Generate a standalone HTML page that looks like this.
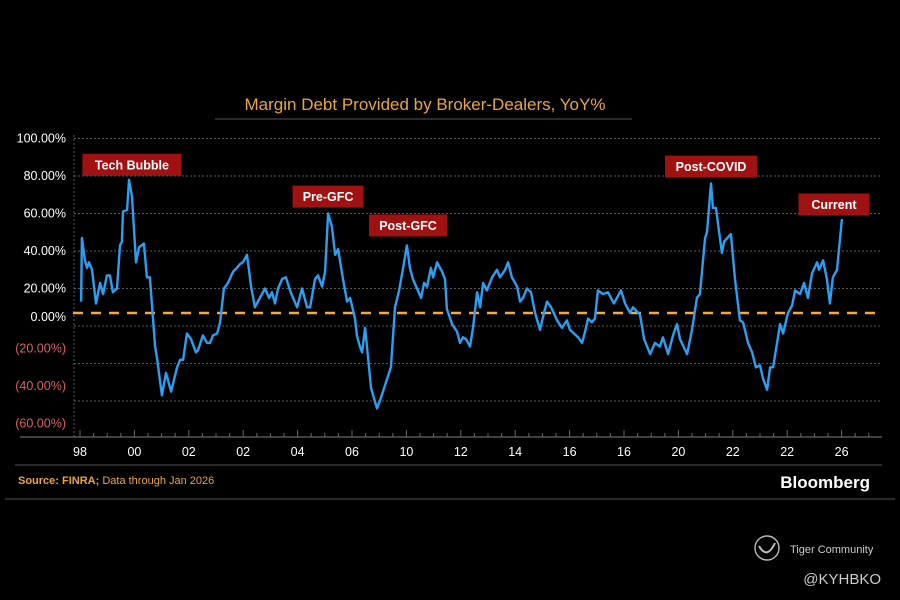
<!DOCTYPE html>
<html><head><meta charset="utf-8"><style>
html,body{margin:0;padding:0;background:#000;}
body{width:900px;height:600px;overflow:hidden;position:relative;font-family:"Liberation Sans",sans-serif;}
</style></head><body>
<svg id="chart" width="900" height="600" xmlns="http://www.w3.org/2000/svg" style="position:absolute;left:0;top:0">
<rect x="0" y="0" width="900" height="600" fill="#000"/>
<text x="425" y="110" fill="#eba53e" font-size="17" text-anchor="middle" font-family="Liberation Sans, sans-serif">Margin Debt Provided by Broker-Dealers, YoY%</text>
<line x1="215" y1="119" x2="632" y2="119" stroke="#555" stroke-width="1"/>
<g id="grid"></g>
<g id="ylabels"></g>
<g id="xaxis"></g>
<line x1="73" y1="313" x2="882" y2="313" stroke="#f2a94a" stroke-width="2.5" stroke-dasharray="10,8"/>
<path id="series" fill="none" stroke="#2b9ff2" stroke-width="2.4" stroke-linejoin="round"/>
<g id="annots"></g>
<line x1="15" y1="465" x2="882" y2="465" stroke="#444" stroke-width="1.2"/>
<text x="18" y="484" fill="#eba53e" font-size="11"><tspan font-weight="bold">Source: FINRA;</tspan> Data through Jan 2026</text>
<text x="870" y="488" fill="#fff" font-size="17" font-weight="bold" text-anchor="end">Bloomberg</text>
<line x1="5" y1="499" x2="895" y2="499" stroke="#444" stroke-width="1.2"/>
<g>
<circle cx="767" cy="548" r="12" fill="none" stroke="#bbb" stroke-width="1.4"/>
<path d="M759 546 Q767 560 775 543" fill="none" stroke="#bbb" stroke-width="2"/>
<text x="790" y="553" fill="#ccc" font-size="11">Tiger Community</text>
</g>
<text x="881" y="584" fill="#ccc" font-size="15" text-anchor="end">@KYHBKO</text>
</svg>
<script>
const years=[1998.04,1998.07,1998.18,1998.26,1998.33,1998.44,1998.59,1998.74,1998.85,1998.99,1999.10,1999.21,1999.36,1999.47,1999.54,1999.58,1999.73,1999.80,1999.91,2000.06,2000.17,2000.35,2000.46,2000.57,2000.76,2000.83,2001.01,2001.16,2001.35,2001.57,2001.68,2001.79,2001.93,2002.08,2002.26,2002.34,2002.52,2002.67,2002.78,2002.89,2003.04,2003.15,2003.29,2003.44,2003.63,2003.77,2003.88,2003.99,2004.14,2004.29,2004.43,2004.54,2004.80,2004.95,2005.06,2005.17,2005.28,2005.43,2005.57,2005.72,2005.83,2005.98,2006.16,2006.35,2006.46,2006.64,2006.75,2006.90,2007.01,2007.12,2007.26,2007.38,2007.49,2007.67,2007.82,2007.93,2008.11,2008.18,2008.29,2008.37,2008.48,2008.55,2008.70,2008.92,2009.07,2009.25,2009.43,2009.58,2009.73,2009.88,2010.02,2010.13,2010.24,2010.39,2010.54,2010.65,2010.76,2010.90,2010.98,2011.13,2011.31,2011.42,2011.49,2011.68,2011.86,2011.97,2012.08,2012.19,2012.34,2012.45,2012.60,2012.71,2012.82,2012.96,2013.15,2013.33,2013.44,2013.63,2013.74,2013.88,2014.07,2014.18,2014.29,2014.43,2014.58,2014.73,2014.91,2015.06,2015.17,2015.32,2015.54,2015.72,2015.90,2016.01,2016.16,2016.31,2016.46,2016.57,2016.68,2016.82,2016.93,2017.04,2017.23,2017.41,2017.63,2017.89,2018.04,2018.22,2018.33,2018.59,2018.74,2018.96,2019.14,2019.32,2019.43,2019.62,2019.80,2019.95,2020.06,2020.32,2020.50,2020.68,2020.79,2020.98,2021.05,2021.20,2021.27,2021.38,2021.60,2021.68,2021.93,2022.08,2022.26,2022.38,2022.56,2022.71,2022.85,2023.00,2023.11,2023.26,2023.37,2023.48,2023.74,2023.85,2024.03,2024.18,2024.29,2024.47,2024.62,2024.76,2024.91,2025.10,2025.17,2025.32,2025.46,2025.57,2025.68,2025.83,2026.01];
const values=[13,47,35,31,34,30,12,23,17,27,27,18,20,43,45,61,62,78,69,34,42,44,26,26,-11,-17,-37,-25,-35,-22,-18,-18,-4,-7,-14,-13,-5,-9,-9,-5,-4,2,20,23,29,31,33,34,38,21,10,13,20,15,18,12,20,25,26,19,15,10,20,10,10,25,27,21,29,60,53,38,41,25,13,15,4,-5,-11,-14,-1,-11,-33,-44,-38,-30,-22,10,19,31,43,31,25,20,15,23,21,31,26,34,29,25,9,1,-3,-9,-6,-7,-11,-1,18,10,23,19,26,30,26,30,34,26,21,13,15,20,18,7,-2,7,13,10,3,-1,3,-2,-4,-6,-9,-3,4,2,4,19,17,18,12,19,12,7,10,6,-7,-15,-9,-11,-6,-15,-5,1,-7,-15,-2,15,17,47,50,76,63,63,39,45,49,25,3,2,-9,-14,-22,-21,-28,-34,-22,-22,1,-4,7,11,19,17,23,15,28,34,30,35,25,12,26,30,57];
const yTicks=[100,80,60,40,20,0,-20,-40];
const yLabelValues=[100,80,60,40,20,0,-20,-40,-60];
const yLabelText=["100.00%","80.00%","60.00%","40.00%","20.00%","0.00%","(20.00%)","(40.00%)","(60.00%)"];
const xTickYears=[1998,2000,2002,2004,2006,2008,2010,2012,2014,2016,2018,2020,2022,2024,2026];
const xTickText=["98","00","02","02","04","06","10","12","14","16","16","20","22","22","26"];
const annotText=["Tech Bubble","Pre-GFC","Post-GFC","Post-COVID","Current"];
const annotYear=[1999.91,2007.12,2010.06,2021.2,2025.72];
const annotValue=[86,69,53.6,85,64.8];

const NS="http://www.w3.org/2000/svg";
function xs(yr){return 80+(yr-1998)*27.2;}
function ys(v){return 326-v*1.875;}
function mk(tag,attrs,parent){const e=document.createElementNS(NS,tag);for(const k in attrs)e.setAttribute(k,attrs[k]);parent.appendChild(e);return e;}

const grid=document.getElementById('grid');
yTicks.forEach(v=>{
  const l=mk('line',{x1:74,x2:880,y1:ys(v),y2:ys(v),stroke:'#5a5a5a','stroke-width':1,'stroke-dasharray':'2,2'},grid);
  
  
});
const vax=mk('line',{x1:74,x2:74,y1:135,y2:437,stroke:'#5a5a5a','stroke-width':1,'stroke-dasharray':'2,2'},grid);



const yl=document.getElementById('ylabels');
yLabelValues.forEach((v,i)=>{
  const off=v<0?-15:(v===0?-9:0);
  const t=mk('text',{x:66,y:ys(v)+off+4,'text-anchor':'end','font-size':12.5,fill:v<0?'#d9605a':'#fff'},yl);
  t.textContent=yLabelText[i];
  
  
});

const xa=document.getElementById('xaxis');
const axl=mk('line',{x1:20,x2:882,y1:437,y2:437,stroke:'#666','stroke-width':1.2},xa);


for(let yr=1998;yr<=2027;yr+=0.5){
  const m=mk('line',{x1:xs(yr),x2:xs(yr),y1:437,y2:yr%2===0?430:433,stroke:'#666','stroke-width':1},xa);
  
  
}
xTickYears.forEach((yr,i)=>{
  const t=mk('text',{x:xs(yr),y:456,'text-anchor':'middle','font-size':12.5,fill:'#fff'},xa);
  t.textContent=xTickText[i];
  
  
});

let d='';
years.forEach((yr,i)=>{d+=(i?'L':'M')+xs(yr).toFixed(1)+' '+ys(values[i]).toFixed(1);});
document.getElementById('series').setAttribute('d',d);

const an=document.getElementById('annots');
annotText.forEach((txt,i)=>{
  const g=mk('g',{},an);
  
  
  const w=txt.length*7+22;
  const cx=xs(annotYear[i]), cy=ys(annotValue[i]);
  mk('rect',{x:cx-w/2,y:cy-11,width:w,height:22,fill:'#a01212'},g);
  const t=mk('text',{x:cx,y:cy+4.5,'text-anchor':'middle','font-size':12.5,'font-weight':'bold',fill:'#fff'},g);
  t.textContent=txt;
});
</script>
</body></html>
